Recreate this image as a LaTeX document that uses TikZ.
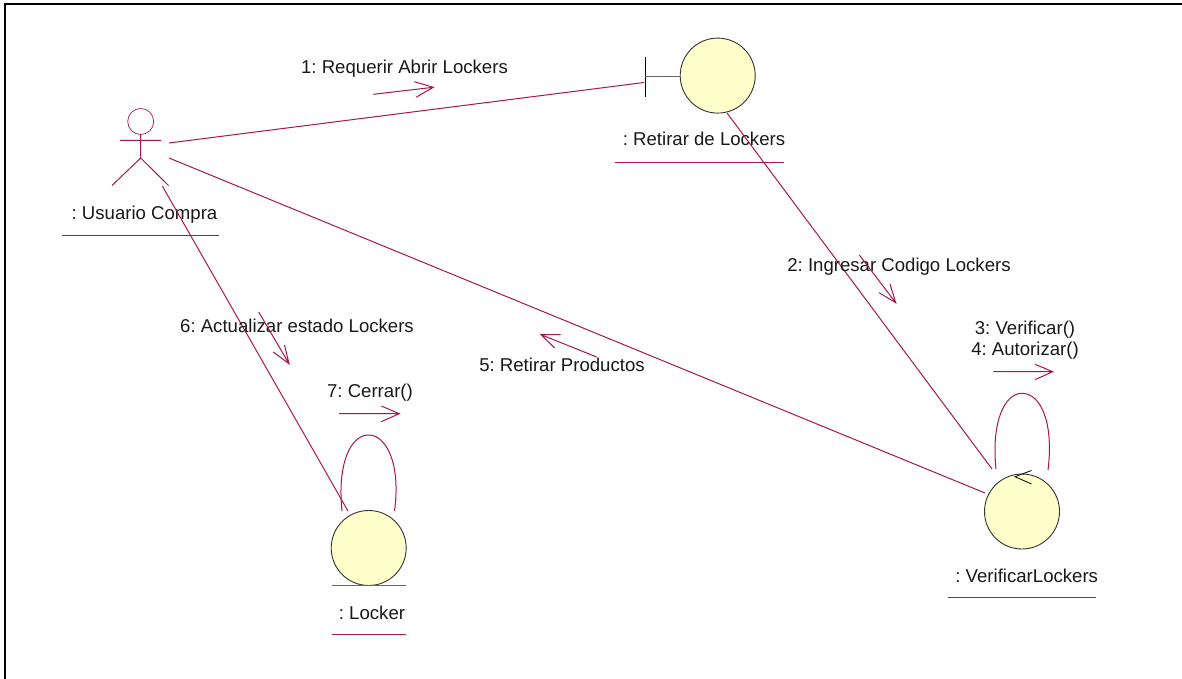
\documentclass[tikz,border=0pt]{standalone}
\usepackage{fontspec}
\setmainfont{Liberation Sans}
\frenchspacing
\definecolor{umlline}{HTML}{A8174F}
\definecolor{umlfill}{HTML}{FFFFCC}
\tikzset{
  x=1pt,y=-1pt,
  wire/.style={draw=umlline,line width=1pt},
  msg/.style={draw=umlline,line width=1pt},
  ball/.style={circle,draw=black!80,fill=umlfill,line width=0.9pt,minimum size=75pt,inner sep=0pt},
  txt/.style={font=\fontsize{18.6}{21}\selectfont,text=black!90,inner sep=0pt,anchor=base},
  rule/.style={draw=umlline,line width=0.9pt},
  frame/.style={draw=black,line width=1.6pt}
}
\begin{document}
\begin{tikzpicture}
\useasboundingbox (0,0) rectangle (1182,679);
\fill[white] (0,0) rectangle (1182,679);
% frame
\coordinate (fa) at (5,679); \coordinate (fb) at (5,4); \coordinate (fc) at (1182,4);
\draw[frame] (fa) -- (fb) -- (fc);
% actor
\node[circle,draw=umlline,line width=0.7pt,minimum size=26pt,inner sep=0pt] (head) at (140.7,121.5) {};
\coordinate (hip) at (140.7,158);
\coordinate (armL) at (120,140.5);
\coordinate (armR) at (161,140.5);
\coordinate (legL) at (112,185.5);
\coordinate (legR) at (168.5,185.5);
\draw[wire] (head.south) -- (hip) (armL) -- (armR) (legL) -- (hip) -- (legR);
\node[txt] (actorlab) at (144.5,219) {: Usuario Compra};
\coordinate (r1a) at (62,235); \coordinate (r1b) at (219,235);
\draw[rule] (r1a) -- (r1b);
% boundary
\node[ball] (bnd) at (717.7,75.6) {};
\coordinate (barT) at (645,57); \coordinate (barB) at (645,97); \coordinate (barM) at (645,76.7);
\draw[draw=black,line width=0.9pt] (barT) -- (barB);
\draw[draw=black!60,line width=1.1pt] (barM) -- (bnd.west |- barM);
\node[txt] (bndlab) at (704,146) {: Retirar de Lockers};
\coordinate (r2a) at (615,162); \coordinate (r2b) at (784,162);
\draw[rule] (r2a) -- (r2b);
% control
\node[ball] (ctl) at (1022,511.5) {};
\coordinate (ctlA) at (1015,476.7); \coordinate (ctlB) at (1031.5,484); \coordinate (ctlC) at (1031.5,470.5);
\draw[draw=black,line width=0.8pt] (ctlC) -- (ctlA) -- (ctlB);
\node[txt] (ctllab) at (1026.7,582.3) {: VerificarLockers};
\coordinate (r3a) at (948,597.5); \coordinate (r3b) at (1096,597.5);
\draw[rule] (r3a) -- (r3b);
% entity
\node[ball] (ent) at (368.7,548) {};
\coordinate (ua) at (332,585.7); \coordinate (ub) at (406,585.7);
\draw[draw=black!60,line width=1.1pt] (ua) -- (ub);
\node[txt] (entlab) at (372,619.3) {: Locker};
\coordinate (r4a) at (332,634.5); \coordinate (r4b) at (406,634.5);
\draw[rule] (r4a) -- (r4b);
% links
\coordinate (p1) at (169,143); \coordinate (p2) at (644,82.5);
\draw[wire] (p1) -- (p2);
\coordinate (p3) at (727,113); \coordinate (p4) at (992,469);
\draw[wire] (p3) -- (p4);
\coordinate (p5) at (169,158); \coordinate (p6) at (985,493);
\draw[wire] (p5) -- (p6);
\coordinate (p7) at (162.3,186); \coordinate (p8) at (348,511);
\draw[wire] (p7) -- (p8);
% self loops
\coordinate (l1a) at (996,469); \coordinate (l1p) at (1022,393.3); \coordinate (l1b) at (1048,470);
\draw[wire] (l1a) .. controls (991,421) and (1005,393.3) .. (l1p) .. controls (1040,393.3) and (1054,421) .. (l1b);
\coordinate (l2a) at (342,511); \coordinate (l2p) at (368.5,435); \coordinate (l2b) at (394.5,511);
\draw[wire] (l2a) .. controls (337,463) and (351,435) .. (l2p) .. controls (386,435) and (401,463) .. (l2b);
% message labels
\node[txt] (m1) at (404.5,73.3) {1: Requerir Abrir Lockers};
\node[txt] (m2) at (899,271.7) {2: Ingresar Codigo Lockers};
\node[txt] (m3) at (1025,334) {3: Verificar()};
\node[txt] (m4) at (1025,355.5) {4: Autorizar()};
\node[txt] (m5) at (562,371) {5: Retirar Productos};
\node[txt] (m6) at (297,332.3) {6: Actualizar estado Lockers};
\node[txt] (m7) at (370,397.3) {7: Cerrar()};
% message arrows
\coordinate (a1s) at (373.3,94.3); \coordinate (a1e) at (433.3,87.3);
\coordinate (a1u) at (414.3,81.7); \coordinate (a1d) at (416,97.3);
\draw[msg] (a1s) -- (a1e) (a1u) -- (a1e) -- (a1d);
\coordinate (a2s) at (859.3,255); \coordinate (a2e) at (895.7,302.7);
\coordinate (a2u) at (890,284); \coordinate (a2d) at (879,292.7);
\draw[msg] (a2s) -- (a2e) (a2u) -- (a2e) -- (a2d);
\coordinate (a3s) at (993.3,371.7); \coordinate (a3e) at (1052.7,371.7);
\coordinate (a3u) at (1035,364.3); \coordinate (a3d) at (1035,379.7);
\draw[msg] (a3s) -- (a3e) (a3u) -- (a3e) -- (a3d);
\coordinate (a5s) at (596.7,357); \coordinate (a5e) at (541,334.7);
\coordinate (a5u) at (560.7,334.7); \coordinate (a5d) at (554.7,348);
\draw[msg] (a5s) -- (a5e) (a5u) -- (a5e) -- (a5d);
\coordinate (a6s) at (258.7,312); \coordinate (a6e) at (289,363.7);
\coordinate (a6u) at (284.5,345); \coordinate (a6d) at (273.3,352);
\draw[msg] (a6s) -- (a6e) (a6u) -- (a6e) -- (a6d);
\coordinate (a7s) at (339,413.7); \coordinate (a7e) at (399.3,413.7);
\coordinate (a7u) at (381.3,406); \coordinate (a7d) at (381.3,421.7);
\draw[msg] (a7s) -- (a7e) (a7u) -- (a7e) -- (a7d);
\end{tikzpicture}
\end{document}
